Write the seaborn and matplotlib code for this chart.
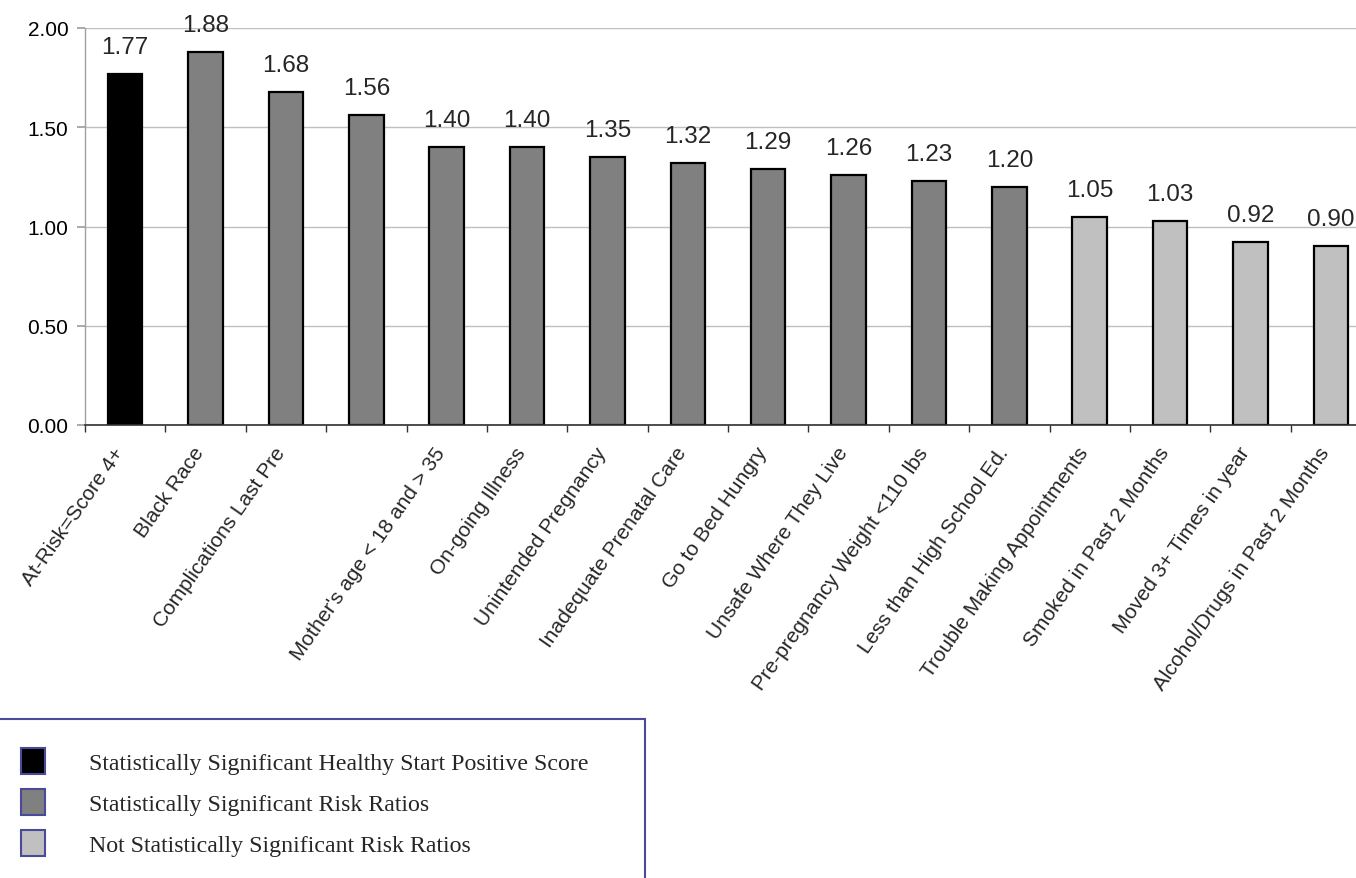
import numpy as np
import pandas as pd
import matplotlib
matplotlib.use("Agg")
import matplotlib.pyplot as plt
import matplotlib.transforms as mtransforms
from matplotlib.patches import Patch, Rectangle
import seaborn as sns

# ==========================================
# DATA
# ==========================================

categories = [
    "At-Risk=Score 4+",
    "Black Race",
    "Complications Last Pre",
    " ",
    "Mother's age < 18 and > 35",
    "On-going Illness",
    "Unintended Pregnancy",
    "Inadequate Prenatal Care",
    "Go to Bed Hungry",
    "Unsafe Where They Live",
    "Pre-pregnancy Weight <110 lbs",
    "Less than High School Ed.",
    "Trouble Making Appointments",
    "Smoked in Past 2 Months",
    "Moved 3+ Times in year",
    "Alcohol/Drugs in Past 2 Months",
]

values = [1.77, 1.88, 1.68, 1.56, 1.40, 1.40, 1.35, 1.32,
          1.29, 1.26, 1.23, 1.20, 1.05, 1.03, 0.92, 0.90]

group_names = [
    "Statistically Significant Healthy Start Positive Score",
    "Statistically Significant Risk Ratios",
    "Not Statistically Significant Risk Ratios",
]
group_of_bar = [0] + [1] * 11 + [2] * 4
group_colors = ["#000000", "#808080", "#c0c0c0"]

df = pd.DataFrame({
    "category": categories,
    "value": values,
    "group": [group_names[g] for g in group_of_bar],
})

# ==========================================
# STYLE
# ==========================================

sns.set_theme(style="white")
plt.rcParams["font.family"] = ["Liberation Sans", "DejaVu Sans"]

fig = plt.figure(figsize=(13.56, 8.79), dpi=100)
ax = fig.add_axes([85 / 1356, (879 - 426) / 879, 1286 / 1356, 397 / 879])

sns.barplot(
    data=df, x="category", y="value", hue="group",
    order=categories, hue_order=group_names,
    palette=dict(zip(group_names, group_colors)),
    dodge=False, width=0.43,
    edgecolor="black", linewidth=1.6,
    legend=False, ax=ax,
)

ax.set_xlim(-0.5, len(categories) - 0.5)
ax.set_ylim(0, 2.0)
ax.set_yticks([0, 0.5, 1.0, 1.5, 2.0])
ax.set_yticklabels([f"{v:.2f}" for v in [0, 0.5, 1.0, 1.5, 2.0]], fontsize=15)
ax.yaxis.grid(True, color="#c0c0c0", linewidth=1.0)
ax.set_axisbelow(True)
ax.set_xlabel("")
ax.set_ylabel("")

for side in ["top", "right"]:
    ax.spines[side].set_visible(False)
ax.spines["left"].set_color("#a0a0a0")
ax.spines["left"].set_linewidth(1.0)
ax.spines["bottom"].set_color("#303030")
ax.spines["bottom"].set_linewidth(1.2)

ax.tick_params(axis="y", left=True, length=6, color="#a0a0a0", pad=6,
               labelcolor="black")

# category labels at bar centres, ticks between bars
ax.set_xticks(range(len(categories)))
ax.set_xticklabels(categories, rotation=55, ha="right", va="center",
                   rotation_mode="anchor", fontsize=15)
ax.tick_params(axis="x", which="major", bottom=True, length=0, pad=17)
ax.set_xticks(np.arange(-0.5, len(categories), 1.0), minor=True)
ax.tick_params(axis="x", which="minor", bottom=True, length=5,
               width=1.0, color="#303030")

shift = mtransforms.ScaledTranslation(-5 / 100, 0, fig.dpi_scale_trans)
for lbl in ax.get_xticklabels():
    lbl.set_transform(lbl.get_transform() + shift)

# value labels
for i, v in enumerate(values):
    ax.annotate(f"{v:.2f}", xy=(i, v), xytext=(0, 21),
                textcoords="offset pixels", ha="center", va="baseline",
                fontsize=17.5, annotation_clip=False)

# ==========================================
# LEGEND
# ==========================================

frame = Rectangle((-5 / 1356, -0.05), 650 / 1356, 0.05 + (879 - 720) / 879,
                  transform=fig.transFigure, fill=False,
                  edgecolor="#4a4a9a", linewidth=1.5, clip_on=False)
fig.add_artist(frame)

handles = [Patch(facecolor=c, edgecolor="#4a4a9a", linewidth=1.5)
           for c in group_colors]
fig.legend(handles, group_names, loc="upper left",
           bbox_to_anchor=(21 / 1356, 1 - 749 / 879),
           frameon=False, borderpad=0, borderaxespad=0,
           handlelength=1.0, handleheight=1.3, handletextpad=1.85,
           labelspacing=0.62,
           prop={"family": "Liberation Serif", "size": 17.2})

fig.savefig("out.png", dpi=100, facecolor="white")
